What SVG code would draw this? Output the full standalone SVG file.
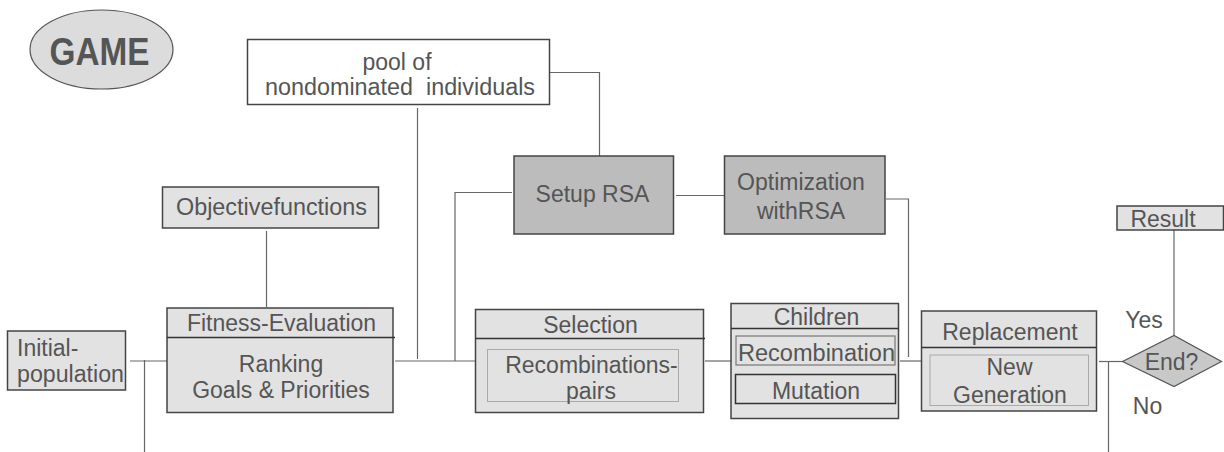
<svg xmlns="http://www.w3.org/2000/svg" width="1224" height="452" viewBox="0 0 1224 452">
<style>
text{font-family:"Liberation Sans",Arial,sans-serif;font-size:23px;fill:#555;text-anchor:middle}
.box{fill:#e2e2e2;stroke:#444;stroke-width:1.5}
.dark{fill:#bcbcbc;stroke:#444;stroke-width:1.5}
.white{fill:#fff;stroke:#444;stroke-width:1.5}
.inner{fill:none;stroke:#aaa;stroke-width:1}
.div{stroke:#333;stroke-width:1.3;fill:none}
.conn path{fill:none;stroke:#666;stroke-width:1.2}
</style>
<rect width="1224" height="452" fill="#fff"/>
<g id="game">
<ellipse cx="101.5" cy="49.5" rx="71.5" ry="39.5" fill="#dcdcdc" stroke="#555" stroke-width="1.2"/>
<text x="99.5" y="64.5" style="font-weight:bold;font-size:39px" textLength="100" lengthAdjust="spacingAndGlyphs">GAME</text>
</g>
<g class="conn" id="connectors">
<path d="M130,361H167"/>
<path d="M144.5,360V452"/>
<path d="M266.5,231V307"/>
<path d="M395,361H475"/>
<path d="M417.5,108V359"/>
<path d="M512,192.5H455V361"/>
<path d="M550,72.5H599.5V157"/>
<path d="M676,195.5H724"/>
<path d="M886,199H908.5V357"/>
<path d="M705,361H731"/>
<path d="M900,361H922"/>
<path d="M1099,361.5H1123"/>
<path d="M1108.5,361.5V452"/>
<path d="M1174,230V335.5"/>
</g>
<g id="pool">
<rect class="white" x="247.5" y="39.5" width="302" height="65"/>
<text x="397" y="70">pool of</text>
<text x="400" y="95" xml:space="preserve" textLength="270" lengthAdjust="spacingAndGlyphs">nondominated  individuals</text>
</g>
<g id="objective">
<rect class="box" x="162.5" y="187" width="216" height="41"/>
<text x="271.5" y="215" textLength="191" lengthAdjust="spacingAndGlyphs">Objectivefunctions</text>
</g>
<g id="setup">
<rect class="dark" x="514" y="156" width="159.5" height="78"/>
<text x="592.5" y="202">Setup RSA</text>
</g>
<g id="optimization">
<rect class="dark" x="724.5" y="156" width="160.5" height="78"/>
<text x="801" y="190">Optimization</text>
<text x="801" y="218.5">withRSA</text>
</g>
<g id="initial">
<rect class="box" x="7.5" y="331" width="118" height="59"/>
<text x="17" y="356" style="text-anchor:start">Initial-</text>
<text x="17" y="381.5" style="text-anchor:start" textLength="107" lengthAdjust="spacingAndGlyphs">population</text>
</g>
<g id="fitness">
<rect class="box" x="167" y="308" width="226" height="104.5"/>
<path class="div" d="M167,337.5H395"/>
<text x="281.5" y="331">Fitness-Evaluation</text>
<text x="281" y="372">Ranking</text>
<text x="281" y="397.5">Goals &amp; Priorities</text>
</g>
<g id="selection">
<rect class="box" x="475.5" y="309.5" width="228" height="103"/>
<path class="div" d="M475.5,338.5H705"/>
<rect class="inner" x="487.5" y="349.5" width="191" height="52"/>
<text x="590.5" y="332.5">Selection</text>
<text x="591.5" y="372.5">Recombinations-</text>
<text x="591" y="398.5">pairs</text>
</g>
<g id="children">
<rect class="box" x="731" y="303.5" width="167.5" height="115"/>
<path class="div" d="M731,328.5H898.5"/>
<text x="816.5" y="325">Children</text>
<rect x="736" y="336" width="159" height="29" fill="none" stroke="#777" stroke-width="1.2"/>
<text x="816.5" y="361" textLength="157" lengthAdjust="spacingAndGlyphs">Recombination</text>
<rect x="735.5" y="374.5" width="160" height="29" fill="none" stroke="#333" stroke-width="1.5"/>
<text x="816" y="398.5">Mutation</text>
</g>
<g id="replacement">
<rect class="box" x="921.5" y="311" width="175" height="100"/>
<path class="div" d="M921.5,347.5H1096.5"/>
<rect class="inner" x="930" y="355" width="158.5" height="50.5"/>
<text x="1010" y="340">Replacement</text>
<text x="1009.5" y="375">New</text>
<text x="1010" y="402.5">Generation</text>
</g>
<g id="end">
<polygon points="1122.5,361.5 1174,335.5 1221.5,361.5 1174,386.5" fill="#c8c8c8" stroke="#555" stroke-width="1.2"/>
<text x="1171.5" y="369.5">End?</text>
</g>
<g id="result">
<rect class="box" x="1117" y="206" width="106.5" height="24"/>
<text x="1163" y="227">Result</text>
</g>
<text x="1144" y="328">Yes</text>
<text x="1147.5" y="413.5">No</text>
</svg>
